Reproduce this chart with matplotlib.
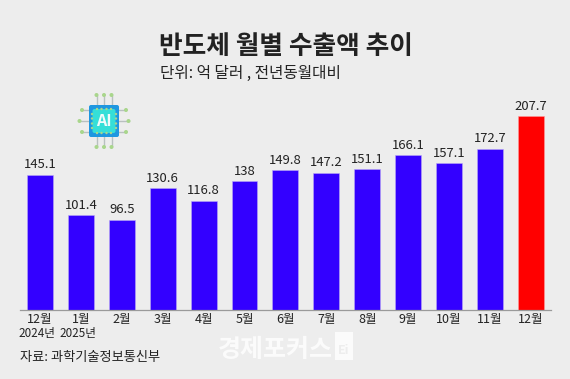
import matplotlib
matplotlib.use('Agg')
import matplotlib.pyplot as plt
from matplotlib.patches import FancyBboxPatch, Rectangle, Circle

plt.rcParams['font.family'] = ['Noto Sans CJK KR', 'DejaVu Sans']

months = ['12월', '1월', '2월', '3월', '4월', '5월', '6월', '7월', '8월', '9월', '10월', '11월', '12월']
values = [145.1, 101.4, 96.5, 130.6, 116.8, 138, 149.8, 147.2, 151.1, 166.1, 157.1, 172.7, 207.7]
value_labels = ['145.1', '101.4', '96.5', '130.6', '116.8', '138', '149.8', '147.2', '151.1', '166.1', '157.1', '172.7', '207.7']
year_labels = {0: '2024년', 1: '2025년'}

W, H = 570, 379
BG = '#ededed'
BLUE = '#3300ff'
RED = '#ff0000'
TEXT = '#222222'
DOT = '#a9d68c'

fig = plt.figure(figsize=(W / 100, H / 100), dpi=100, facecolor=BG)

# 막대 영역
ax = fig.add_axes([20 / W, (H - 309.5) / H, 531 / W, 239.5 / H], facecolor='none')
colors = [BLUE] * 12 + [RED]
bars = ax.bar(range(len(values)), values, width=0.635, color=colors, edgecolor='#b9a8f5', linewidth=0.4)
bars[-1].set_edgecolor('#ff9a9a')
ax.set_xlim(-0.489, 12.494)
ax.set_ylim(0, 239.5 / 0.93)
for s in ['top', 'left', 'right']:
    ax.spines[s].set_visible(False)
ax.spines['bottom'].set_color('#9a9a9a')
ax.spines['bottom'].set_linewidth(0.9)
ax.set_yticks([])
ax.set_xticks(range(len(months)))
ax.set_xticklabels(months, fontsize=9, color=TEXT)
ax.tick_params(axis='x', length=0, pad=2.5)

for i, v in enumerate(values):
    ax.annotate(value_labels[i], (i, v), xytext=(0, 2.5), textcoords='offset points',
                ha='center', va='bottom', fontsize=9.4, color=TEXT)
for i, t in year_labels.items():
    ax.annotate(t, (i, 0), xytext=(-2.2, -17), textcoords='offset points',
                ha='center', va='center', fontsize=8.4, color=TEXT)

# 픽셀 좌표 오버레이 (제목, 아이콘)
ov = fig.add_axes([0, 0, 1, 1], facecolor='none')
ov.set_xlim(0, W)
ov.set_ylim(H, 0)
ov.axis('off')

ov.text(286, 47, '반도체 월별 수출액 추이', fontsize=18.5, fontweight='bold', color=TEXT, ha='center', va='center')
ov.text(160, 73, '단위: 억 달러 , 전년동월대비', fontsize=11.3, color=TEXT, ha='left', va='center')
ov.text(20, 358, '자료: 과학기술정보통신부', fontsize=9.5, color=TEXT, ha='left', va='center')

# 워터마크
ov.text(218, 350, '경제포커스', fontsize=18, fontweight='bold', color='#fbfbfb', ha='left', va='center')
ov.add_patch(Rectangle((335, 332), 18, 28, facecolor='#fbfbfb', edgecolor='none'))
ov.text(344, 351, 'Ei', fontsize=9, fontweight='bold', color=BG, ha='center', va='center')

# AI 칩 아이콘
cx, cy = 104, 121
for dx in (-7.5, 0, 7.5):
    ov.plot([cx + dx, cx + dx], [cy - 25, cy + 25], color='#b9c0c0', lw=1, zorder=2)
    for sy in (-1, 1):
        ov.add_patch(Circle((cx + dx, cy + sy * 26), 2, facecolor=DOT, edgecolor='none', zorder=3))
for dy, reach in ((-11, 22), (0, 24.5), (11, 22)):
    ov.plot([cx - reach, cx + reach], [cy + dy, cy + dy], color='#b9c0c0', lw=1, zorder=2)
    for sx in (-1, 1):
        ov.add_patch(Circle((cx + sx * reach, cy + dy), 2, facecolor=DOT, edgecolor='none', zorder=3))
ov.add_patch(FancyBboxPatch((cx - 15, cy - 16), 30, 32, boxstyle='round,pad=0,rounding_size=2',
                            facecolor='#1f97e0', edgecolor='none', zorder=4))
ov.add_patch(FancyBboxPatch((cx - 11.5, cy - 12), 23, 24, boxstyle='round,pad=0,rounding_size=2',
                            facecolor='#35dfd8', edgecolor='none', zorder=5))
for d in (-7, -2.5, 2.5, 7):
    ov.add_patch(Circle((cx + d, cy - 12), 1.2, facecolor=DOT, edgecolor='none', zorder=6))
    ov.add_patch(Circle((cx + d, cy + 12), 1.2, facecolor=DOT, edgecolor='none', zorder=6))
    ov.add_patch(Circle((cx - 12, cy + d), 1.2, facecolor=DOT, edgecolor='none', zorder=6))
    ov.add_patch(Circle((cx + 12, cy + d), 1.2, facecolor=DOT, edgecolor='none', zorder=6))
ov.text(cx, cy, 'AI', fontsize=11.5, fontweight='bold', color='#f2fbfb', ha='center', va='center', zorder=7)

fig.savefig('out.png', dpi=100, facecolor=BG)
